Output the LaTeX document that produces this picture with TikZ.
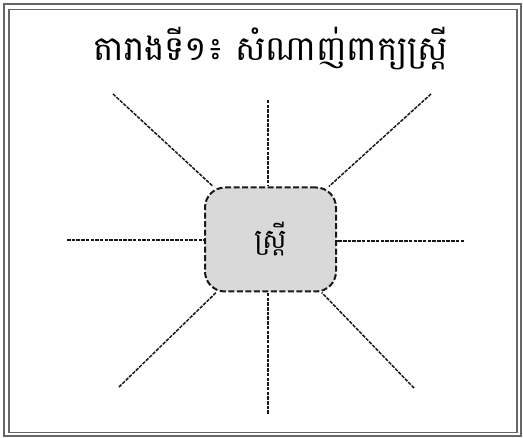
\documentclass[tikz,border=0pt]{standalone}
\usepackage{fontspec}
\newfontfamily\khmerfont[Script=Khmer]{Battambang}
\begin{document}
\begin{tikzpicture}[x=1pt,y=-1pt,
  frame/.style={draw=black!60,line width=1.6pt},
  spoke/.style={draw=black!90,line width=1.5pt,dash pattern=on 3.5pt off 1.2pt},
  hub/.style={draw=black!90,fill=black!15,line width=2pt,dash pattern=on 6pt off 2.5pt,
    rounded corners=20pt,minimum width=131pt,minimum height=104pt,inner sep=0pt,
    font=\khmerfont\fontsize{27}{30}\selectfont},
  title/.style={font=\khmerfont\fontsize{34}{38}\selectfont,inner sep=0pt}]
\useasboundingbox (0,0) rectangle (523,438);
\draw[frame] (4,4) rectangle (521,436);
\draw[frame,line width=1.4pt] (9,9.5) rectangle (517,432.5);
\node[title] (t) at (271,49) {តារាងទី១៖ សំណាញ់ពាក្យស្ត្រី};
\node[hub] (box) at (270.5,239.5) {ស្ត្រី};
\coordinate (n) at (268,100);
\coordinate (s) at (268,414);
\coordinate (w) at (67,240);
\coordinate (e) at (464,241);
\coordinate (nw) at (113,94);
\coordinate (ne) at (431,94);
\coordinate (sw) at (119,387);
\coordinate (se) at (414,388);
\draw[spoke] (n) -- (box.north -| n);
\draw[spoke] (s) -- (box.south -| s);
\draw[spoke] (w) -- (box.west |- w);
\draw[spoke] (e) -- (box.east |- e);
\draw[spoke] (nw) -- (box);
\draw[spoke] (ne) -- (box);
\draw[spoke] (sw) -- (box);
\draw[spoke] (se) -- (box);
\end{tikzpicture}
\end{document}
